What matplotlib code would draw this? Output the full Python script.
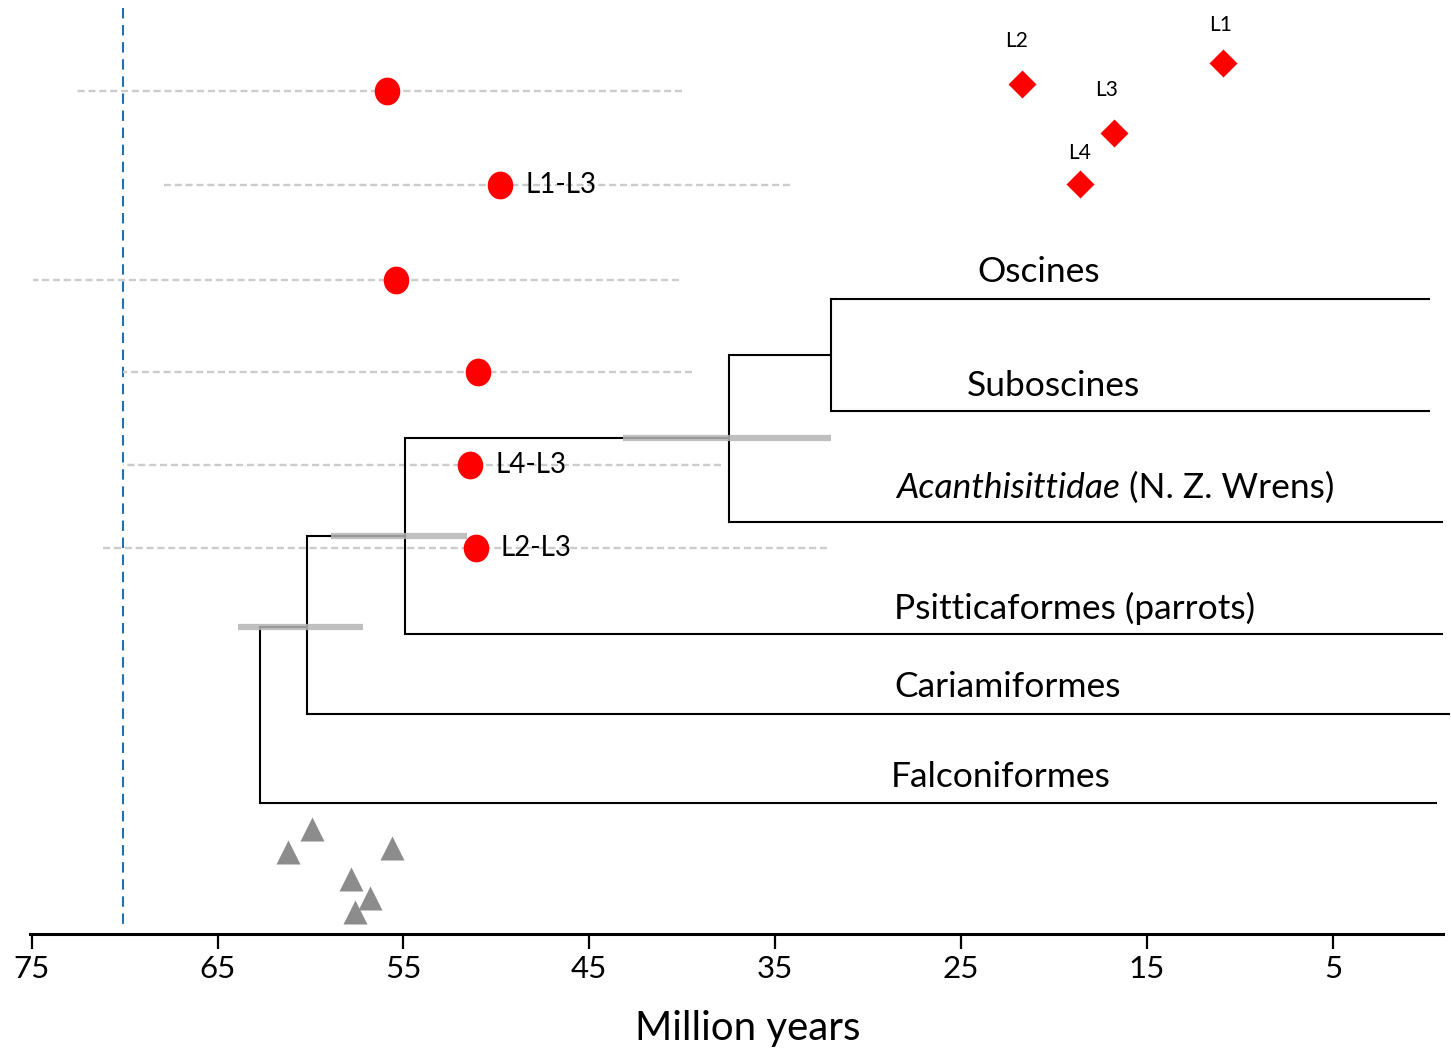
import matplotlib
matplotlib.use("Agg")
import matplotlib.pyplot as plt
import numpy as np
from matplotlib.path import Path

plt.rcParams['font.family'] = ['Lato', 'DejaVu Sans']

# ---------------- data ----------------
# time-tree tips
clades = ["Oscines", "Suboscines", "Acanthisittidae", "Psitticaformes (parrots)",
          "Cariamiformes", "Falconiformes"]
tip_end = [-0.2, -0.2, -0.9, -0.9, -1.3, -0.6]          # Myr where tip lines end
# internal node ages (Myr): (Osc,Sub), Passeriformes, Psittacopasserae, +Cariamiformes, root
node_age = [32.0, 37.5, 54.9, 60.2, 62.7]
# node age confidence intervals (Myr)
ci_lo = [32.0, 51.6, 57.2]
ci_hi = [43.2, 58.9, 63.9]

# red circles: divergence estimates with intervals
est_age = [55.9, 49.8, 55.4, 51.0, 51.4, 51.1]
est_lo = [40.0, 34.2, 40.2, 39.5, 37.9, 32.2]
est_hi = [72.7, 67.9, 74.9, 70.1, 70.1, 71.3]
est_label = ["", "L1-L3", "", "", "L4-L3", "L2-L3"]

# red diamonds
dia_label = ["L1", "L2", "L3", "L4"]
dia_age = [10.9, 21.7, 16.8, 18.6]

# grey triangles (fossils)
fos_age = [59.9, 61.2, 55.6, 57.8, 56.8, 57.6]

kpg = 70.1
xticks = [75, 65, 55, 45, 35, 25, 15, 5]

# ---------------- layout (vertical positions, figure-pixel units) ----------------
tip_y = [299, 411, 522, 634, 714, 803]
node_y = [355, 438, 536, 627]              # stem heights of internal nodes 0..3
ci_y = [438, 536, 627]
est_y = [91, 185, 280, 372, 465, 548]
dia_y = [63, 84, 133, 184]
dia_lab_off = [(-3, 38), (-6, 43), (-7, 43), (-1, 31)]
fos_y = [829, 852, 848, 879, 898, 912]
tip_lab_x = [24.1, 24.7, 28.5, 28.6, 28.6, 28.8]
tip_lab_y = [272, 386, 488, 608, 687, 777]

fig = plt.figure(figsize=(14.51, 10.52), dpi=100)
ax = fig.add_axes([0, 0, 1, 1])
ax.set_xlim(76.7, -1.35)
ax.set_ylim(1052, 0)

BLACK_LW = 1.5
# ---- tree ----
children = {
    0: [('tip', 0), ('tip', 1)],
    1: [('node', 0), ('tip', 2)],
    2: [('node', 1), ('tip', 3)],
    3: [('node', 2), ('tip', 4)],
    4: [('node', 3), ('tip', 5)],
}
for n, ch in children.items():
    ys = []
    for kind, i in ch:
        if kind == 'tip':
            y = tip_y[i]; x_end = tip_end[i]
        else:
            y = node_y[i]; x_end = node_age[i]
        ys.append(y)
        ax.plot([node_age[n], x_end], [y, y], color='black', lw=BLACK_LW, zorder=4,
                solid_capstyle='butt')
    ax.plot([node_age[n], node_age[n]], [min(ys), max(ys)], color='black', lw=BLACK_LW,
            zorder=4, solid_capstyle='projecting')

# confidence bars
for lo, hi, y in zip(ci_lo, ci_hi, ci_y):
    ax.plot([lo, hi], [y, y], color='#b4b4b4', lw=4.5, alpha=0.85, zorder=5,
            solid_capstyle='butt')

# K-Pg line
ax.plot([kpg, kpg], [8, 926], color='#2370b0', lw=1.5, ls=(0, (5, 3.2)), zorder=2)

# estimates with dashed intervals
theta = np.linspace(0, 2 * np.pi, 60)
ell = Path(np.column_stack([0.92 * np.cos(theta), np.sin(theta)]))
for a, lo, hi, y, lab in zip(est_age, est_lo, est_hi, est_y, est_label):
    ax.plot([lo, hi], [y, y], color='#cccccc', lw=1.7, ls=(0, (3, 1.6)), zorder=3)
    ax.plot([a], [y], marker=ell, ms=20, color='#ff0000', mec='none', zorder=6)
    if lab:
        ax.annotate(lab, (a, y), xytext=(25, 0), textcoords='offset pixels',
                    ha='left', va='center', fontsize=20, color='black', zorder=7)

# diamonds
for lab, a, y, off in zip(dia_label, dia_age, dia_y, dia_lab_off):
    ax.plot([a], [y], marker='D', ms=14, color='#ff0000', mec='none', zorder=6)
    ax.annotate(lab, (a, y), xytext=(off[0], off[1]), textcoords='offset pixels',
                ha='center', va='center', fontsize=15, color='black')

# fossils
ax.plot(fos_age, fos_y, ls='none', marker='^', ms=17, color='#8c8c8c', mec='none',
        zorder=6)

# clade labels
LAB_FS = 25.5
for name, x, y in zip(clades, tip_lab_x, tip_lab_y):
    if name == "Acanthisittidae":
        t = ax.text(x, y, name, fontsize=LAB_FS, style='italic', ha='left', va='center')
        ax.annotate(" (N. Z. Wrens)", xy=(1, 0.5), xycoords=t, ha='left', va='center',
                    fontsize=LAB_FS)
    else:
        ax.text(x, y, name, fontsize=LAB_FS, ha='left', va='center')

# axis
for s in ['top', 'left', 'right']:
    ax.spines[s].set_visible(False)
ax.spines['bottom'].set_position(('data', 934))
ax.spines['bottom'].set_bounds(-0.9, 75.1)
ax.spines['bottom'].set_linewidth(2.2)
ax.set_yticks([])
ax.set_xticks(xticks)
ax.set_xticklabels([str(v) for v in xticks])
ax.tick_params(axis='x', direction='out', length=11, width=1.6, pad=4, labelsize=22.5)
ax.set_xlabel("Million years", fontsize=29)
ax.xaxis.set_label_coords(748 / 1451, 1 - 1010 / 1052)
ax.patch.set_visible(False)

fig.savefig("out.png", dpi=100)
